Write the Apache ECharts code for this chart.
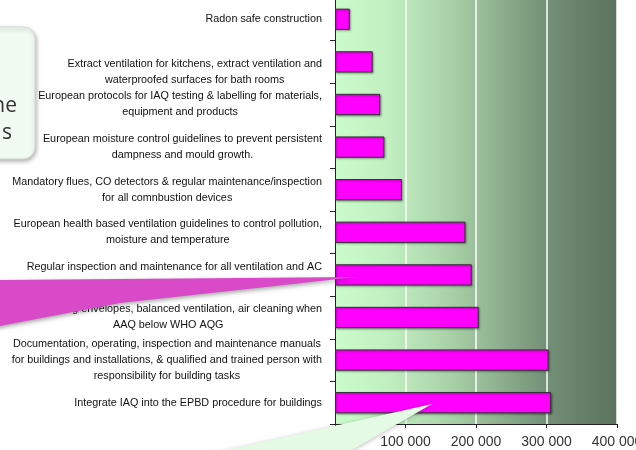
<!DOCTYPE html>
<html>
<head>
<meta charset="utf-8">
<title>IAQ measures</title>
<script src="https://cdn.jsdelivr.net/npm/echarts@6/dist/echarts.min.js"></script>
<style>
  html, body { margin: 0; padding: 0; background: #fff; }
  #main { width: 636px; height: 450px; }
</style>
</head>
<body>
<div id="main"></div>
<script>
// categories, top to bottom
var categories = [
  'Radon safe construction',
  'Extract ventilation for kitchens, extract ventilation and\nwaterproofed surfaces for bath rooms',
  'European protocols for IAQ testing & labelling for materials,\nequipment and products',
  'European moisture control guidelines to prevent persistent\ndampness and mould growth.',
  'Mandatory flues, CO detectors & regular maintenance/inspection\nfor all comnbustion devices',
  'European health based ventilation guidelines to control pollution,\nmoisture and temperature',
  'Regular inspection and maintenance for all ventilation and AC',
  'Tight building envelopes, balanced ventilation, air cleaning when\nAAQ below WHO AQG',
  'Documentation, operating, inspection and maintenance manuals\nfor buildings and installations, & qualified and trained person with\nresponsibility for building tasks',
  'Integrate IAQ into the EPBD procedure for buildings'
];
// values
var values = [21000, 53500, 64000, 70000, 95000, 185000, 194000, 204000, 303000, 306500];
var xTicks = [0, 100000, 200000, 300000, 400000];

var chart = echarts.init(document.getElementById('main'), null, { renderer: 'canvas' });

function fmtNum(v) {
  if (v === 0) return '';
  return String(v).replace(/\B(?=(\d{3})+(?!\d))/g, ' ');
}

// a couple of labels sit a bit off-centre in the original
function labelStyle(i) {
  if (i === 1) return 'dn';
  if (i === 6) return 'up';
  return 'c';
}

var labelFont = {
  align: 'center',
  fontSize: 10.8,
  lineHeight: 16,
  color: '#111',
  fontFamily: 'Liberation Sans, Arial, sans-serif'
};

var option = {
  animation: false,
  grid: {
    left: 335,
    right: 19,
    top: -2,
    bottom: 26,
    show: true,
    borderWidth: 0,
    outerBoundsMode: 'none',
    backgroundColor: new echarts.graphic.LinearGradient(0, 0, 1, 0, [
      { offset: 0, color: '#cbfccb' },
      { offset: 0.2, color: '#c0eec0' },
      { offset: 0.4, color: '#aad2aa' },
      { offset: 0.55, color: '#93b693' },
      { offset: 0.75, color: '#739076' },
      { offset: 1, color: '#5b725c' }
    ])
  },
  xAxis: {
    type: 'value',
    min: xTicks[0],
    max: xTicks[xTicks.length - 1],
    interval: 100000,
    axisLine: { show: true, lineStyle: { color: '#222', width: 1 } },
    axisTick: { show: true, length: 4, lineStyle: { color: '#222' } },
    splitLine: { show: true, lineStyle: { color: '#ffffff', width: 1.5 } },
    axisLabel: {
      margin: 11,
      fontSize: 14,
      color: '#333',
      fontFamily: 'Liberation Sans, Arial, sans-serif',
      formatter: fmtNum
    }
  },
  yAxis: {
    type: 'category',
    inverse: true,
    data: categories,
    axisLine: { show: true, lineStyle: { color: '#222', width: 1 } },
    axisTick: { show: true, length: 5, lineStyle: { color: '#222' } },
    axisLabel: {
      interval: 0,
      margin: 13,
      fontSize: 10.8,
      color: '#111',
      fontFamily: 'Liberation Sans, Arial, sans-serif',
      formatter: function (v, i) {
        var s = labelStyle(i);
        return v.split('\n').map(function (l) { return '{' + s + '|' + l + '}'; }).join('\n');
      },
      rich: {
        c: labelFont,
        dn: Object.assign({}, labelFont, { padding: [20, 0, 0, 0] }),
        up: Object.assign({}, labelFont, { padding: [0, 0, 16, 0] })
      }
    }
  },
  series: [{
    type: 'bar',
    data: values,
    barWidth: '50%',
    itemStyle: {
      color: '#ff00ff',
      borderColor: '#333',
      borderWidth: 1,
      shadowColor: 'rgba(0,0,0,0.35)',
      shadowBlur: 2,
      shadowOffsetX: 1,
      shadowOffsetY: 1
    }
  }],
  graphic: [
    {
      type: 'rect',
      z: 100,
      shape: { x: -20, y: 27, width: 55, height: 132, r: 12 },
      style: {
        fill: '#f2fbf2',
        stroke: '#d3ddd3',
        lineWidth: 1,
        shadowColor: 'rgba(0,0,0,0.3)',
        shadowBlur: 4,
        shadowOffsetX: 1,
        shadowOffsetY: 2
      }
    },
    {
      type: 'text',
      z: 101,
      style: {
        x: 17, y: 106, text: 'ne', align: 'right', verticalAlign: 'middle',
        fontSize: 21, fill: '#333', fontFamily: 'Open Sans, sans-serif'
      }
    },
    {
      type: 'text',
      z: 101,
      style: {
        x: 12, y: 133, text: 's', align: 'right', verticalAlign: 'middle',
        fontSize: 21, fill: '#333', fontFamily: 'Open Sans, sans-serif'
      }
    },
    {
      type: 'polygon',
      z: 100,
      shape: { points: [[-5, 280], [357, 277], [120, 303], [0, 326], [-5, 326]] },
      style: {
        fill: '#d94ac8',
        shadowColor: 'rgba(0,0,0,0.35)',
        shadowBlur: 4,
        shadowOffsetY: 2
      }
    },
    {
      type: 'polygon',
      z: 100,
      shape: { points: [[205, 455], [432, 404], [343, 455]] },
      style: {
        fill: '#e4fae4',
        shadowColor: 'rgba(0,0,0,0.25)',
        shadowBlur: 4,
        shadowOffsetY: 1
      }
    }
  ]
};

chart.setOption(option);
</script>
</body>
</html>
